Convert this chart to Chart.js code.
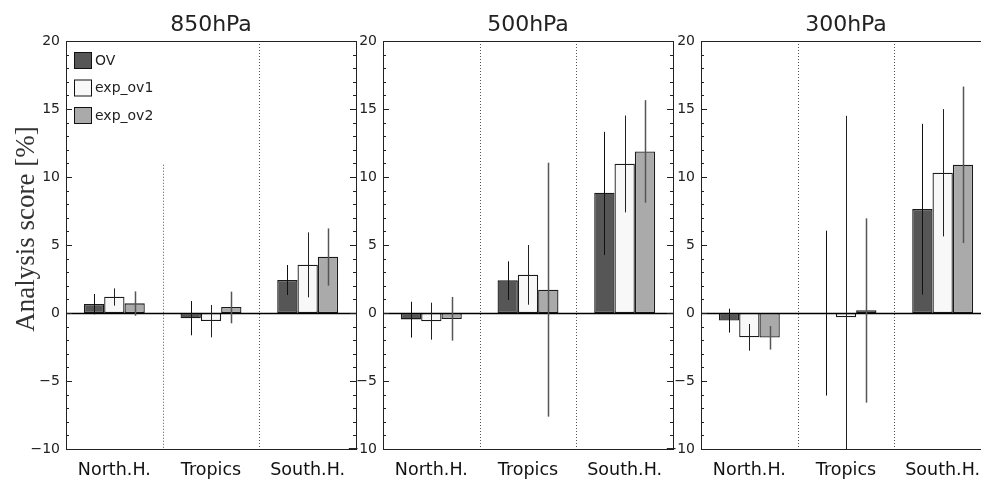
<!DOCTYPE html>
<html><head><meta charset="utf-8">
<script src="https://cdn.jsdelivr.net/npm/chart.js@4/dist/chart.umd.min.js"></script>
<style>
html,body{margin:0;padding:0;background:#fff;overflow:hidden;width:981px;height:480px;}
canvas{position:absolute;left:0;top:0;}
</style></head><body>
<canvas id="c0" width="1000" height="480"></canvas>
<canvas id="c1" width="1000" height="480"></canvas>
<canvas id="c2" width="1000" height="480"></canvas>
<script>
const categories = ['North.H.', 'Tropics', 'South.H.'];
const seriesNames = ['OV', 'exp_ov1', 'exp_ov2'];
const panelTitles = ['850hPa', '500hPa', '300hPa'];
const yTickValues = [-10, -5, 0, 5, 10, 15, 20];
const yAxisTitle = 'Analysis score [%]';

// 850hPa
const ov_850       = [0.66, -0.39, 2.42];
const ov_850_lo    = [-0.10, -1.64, 1.32];
const ov_850_hi    = [1.40, 0.88, 3.53];
const ov1_850      = [1.20, -0.59, 3.55];
const ov1_850_lo   = [0.54, -1.79, 1.15];
const ov1_850_hi   = [1.81, 0.59, 5.93];
const ov2_850      = [0.71, 0.44, 4.14];
const ov2_850_lo   = [-0.20, -0.76, 2.01];
const ov2_850_hi   = [1.59, 1.57, 6.22];

// 500hPa
const ov_500       = [-0.47, 2.40, 8.84];
const ov_500_lo    = [-1.81, 0.96, 4.26];
const ov_500_hi    = [0.83, 3.80, 13.32];
const ov1_500      = [-0.61, 2.82, 10.97];
const ov1_500_lo   = [-1.96, 0.61, 7.40];
const ov1_500_hi   = [0.76, 5.00, 14.52];
const ov2_500      = [-0.44, 1.71, 11.88];
const ov2_500_lo   = [-2.03, -7.62, 8.11];
const ov2_500_hi   = [1.18, 11.05, 15.65];

// 300hPa
const ov_300       = [-0.56, 0.00, 7.64];
const ov_300_lo    = [-1.44, -6.07, 1.35];
const ov_300_hi    = [0.32, 6.05, 13.91];
const ov1_300      = [-1.79, -0.32, 10.31];
const ov1_300_lo   = [-2.77, -12.0, 5.63];
const ov1_300_hi   = [-0.81, 14.50, 14.99];
const ov2_300      = [-1.81, 0.20, 10.90];
const ov2_300_lo   = [-2.69, -6.59, 5.14];
const ov2_300_hi   = [-0.96, 6.96, 16.65];

const panelValues = [[ov_850, ov1_850, ov2_850], [ov_500, ov1_500, ov2_500], [ov_300, ov1_300, ov2_300]];
const panelLo = [[ov_850_lo, ov1_850_lo, ov2_850_lo], [ov_500_lo, ov1_500_lo, ov2_500_lo], [ov_300_lo, ov1_300_lo, ov2_300_lo]];
const panelHi = [[ov_850_hi, ov1_850_hi, ov2_850_hi], [ov_500_hi, ov1_500_hi, ov2_500_hi], [ov_300_hi, ov1_300_hi, ov2_300_hi]];

const barColors = ['#565656', '#f8f8f8', '#aaaaaa'];
const errColors = ['#111111', '#222222', '#555555'];
const errWidths = [1, 1, 1.5];
const panelLeft = [66, 383, 701];
const panelWidth = 290;
const canvasW = 1000;

const deco = {
  id: 'deco',
  afterDraw(chart) {
    const o = chart.options.plugins.deco;
    const pi = o.pi;
    const ctx = chart.ctx;
    const a = chart.chartArea;
    const ys = chart.scales.y;
    ctx.save();
    // separators
    ctx.strokeStyle = '#555';
    ctx.lineWidth = 1;
    ctx.setLineDash([1, 2]);
    for (let i = 1; i < 3; i++) {
      const x = Math.round(a.left + (a.right - a.left) * i / 3) + 0.5;
      const top = (pi === 0 && i === 1) ? ys.getPixelForValue(10.9) : a.top;
      ctx.beginPath(); ctx.moveTo(x, top); ctx.lineTo(x, a.bottom); ctx.stroke();
    }
    ctx.setLineDash([]);
    // zero line
    const y0 = Math.round(ys.getPixelForValue(0)) + 0.5;
    ctx.strokeStyle = '#000';
    ctx.lineWidth = 1.5;
    ctx.beginPath(); ctx.moveTo(a.left, y0); ctx.lineTo(a.right, y0); ctx.stroke();
    // error bars
    ctx.save();
    ctx.beginPath(); ctx.rect(a.left, a.top, a.right - a.left, a.bottom - a.top); ctx.clip();
    for (let k = 0; k < 3; k++) {
      const meta = chart.getDatasetMeta(k);
      ctx.strokeStyle = errColors[k];
      ctx.lineWidth = errWidths[k];
      for (let j = 0; j < 3; j++) {
        const x = Math.round(meta.data[j].x) + 0.5;
        const yl = ys.getPixelForValue(panelLo[pi][k][j]);
        const yh = ys.getPixelForValue(panelHi[pi][k][j]);
        ctx.beginPath(); ctx.moveTo(x, yl); ctx.lineTo(x, yh); ctx.stroke();
      }
    }
    ctx.restore();
    // box
    ctx.strokeStyle = '#222';
    ctx.lineWidth = 1;
    ctx.strokeRect(Math.round(a.left) + 0.5, Math.round(a.top) + 0.5, Math.round(a.right - a.left), Math.round(a.bottom - a.top));
    // inward ticks
    ctx.beginPath();
    for (let v = ys.min; v <= ys.max; v++) {
      const y = Math.round(ys.getPixelForValue(v)) + 0.5;
      const len = (v % 5 === 0) ? 6 : 3;
      ctx.moveTo(a.left, y); ctx.lineTo(a.left + len, y);
      ctx.moveTo(a.right, y); ctx.lineTo(a.right - len, y);
    }
    ctx.stroke();
    // title
    ctx.fillStyle = '#222';
    ctx.font = '22px "DejaVu Sans"';
    ctx.textAlign = 'center';
    ctx.textBaseline = 'middle';
    ctx.fillText(panelTitles[pi], (a.left + a.right) / 2, 25);
    if (pi === 0) {
      // y axis title
      ctx.save();
      ctx.translate(27, 229);
      ctx.rotate(-Math.PI / 2);
      ctx.font = '27px "Liberation Serif"';
      ctx.fillStyle = '#333';
      ctx.textAlign = 'center';
      ctx.textBaseline = 'middle';
      ctx.fillText(yAxisTitle, 0, 0);
      ctx.restore();
      // legend
      const rows = [60, 87.5, 115];
      ctx.font = '14px "DejaVu Sans"';
      ctx.textAlign = 'left';
      ctx.textBaseline = 'middle';
      for (let k = 0; k < 3; k++) {
        const yc = rows[k];
        ctx.fillStyle = barColors[k];
        ctx.fillRect(74.5, yc - 8, 17, 16);
        ctx.strokeStyle = '#111';
        ctx.lineWidth = 1;
        ctx.strokeRect(74.5, yc - 7.5, 17, 16);
        ctx.fillStyle = '#222';
        ctx.fillText(seriesNames[k], 95, yc + 1);
      }
    }
    ctx.restore();
  }
};

function makeChart(id, pi) {
  const L = panelLeft[pi];
  new Chart(document.getElementById(id), {
    type: 'bar',
    data: {
      labels: categories,
      datasets: seriesNames.map((n, k) => ({
        label: n,
        data: panelValues[pi][k],
        backgroundColor: barColors[k],
        borderColor: '#1a1a1a',
        borderWidth: 1.3,
        borderSkipped: false,
        categoryPercentage: 0.63,
        barPercentage: 1.0
      }))
    },
    options: {
      responsive: false,
      animation: false,
      devicePixelRatio: 1,
      events: [],
      layout: { padding: { left: L - 40, right: canvasW - (L + panelWidth), top: 41, bottom: 1 } },
      plugins: {
        legend: { display: false },
        tooltip: { enabled: false },
        deco: { pi: pi }
      },
      scales: {
        x: {
          grid: { display: false, drawTicks: false },
          border: { display: false },
          ticks: { padding: 11, color: '#111', font: { family: 'DejaVu Sans', size: 17.5 } },
          afterFit(s) { s.height = 30; }
        },
        y: {
          min: -10, max: 20,
          afterBuildTicks(s) { s.ticks = yTickValues.map(v => ({ value: v })); },
          grid: { display: false, drawTicks: false },
          border: { display: false },
          ticks: {
            padding: 6, color: '#222',
            font: { family: 'DejaVu Sans', size: 14 },
            callback: v => String(v).replace('-', '\u2212')
          },
          afterFit(s) { s.width = 40; }
        }
      }
    },
    plugins: [deco]
  });
}
makeChart('c0', 0);
makeChart('c1', 1);
makeChart('c2', 2);
</script>
</body></html>
